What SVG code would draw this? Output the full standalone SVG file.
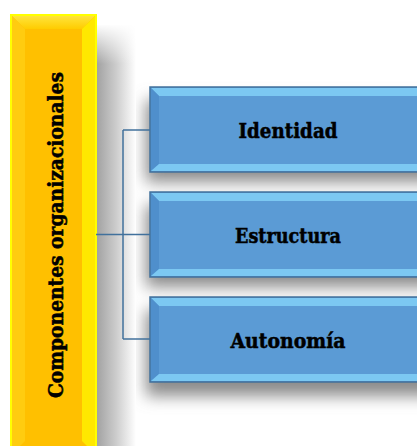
<svg xmlns="http://www.w3.org/2000/svg" width="417" height="446" viewBox="0 0 417 446">
<defs>
<linearGradient id="shR" x1="0" y1="0" x2="1" y2="0">
<stop offset="0" stop-color="#a0a0a0"/><stop offset="0.5" stop-color="#cccccc"/><stop offset="1" stop-color="#ffffff"/>
</linearGradient>
<linearGradient id="fadeTop" x1="0" y1="0" x2="0" y2="1">
<stop offset="0" stop-color="#ffffff" stop-opacity="1"/><stop offset="1" stop-color="#ffffff" stop-opacity="0"/>
</linearGradient>
<linearGradient id="yTop" x1="0" y1="0" x2="0" y2="1">
<stop offset="0" stop-color="#ffe640"/><stop offset="1" stop-color="#ffcc00"/>
</linearGradient>
<filter id="blur" x="-20%" y="-30%" width="140%" height="160%"><feGaussianBlur stdDeviation="8"/></filter>
<style>
.lbl{font-family:"DejaVu Serif",serif;font-weight:bold;font-size:20px;fill:#000;stroke:#000;stroke-width:0.5;text-anchor:middle}
.blue{fill:#5b9bd5}
.bev{fill:#7cc8f2}
.bevd{fill:#4f8fcc}
.edge{fill:none;stroke:#41719c;stroke-width:1.5}
.con{fill:none;stroke:#41719c;stroke-width:1.5}
</style>
</defs>
<rect width="417" height="446" fill="#fff"/>
<!-- shadows -->
<g filter="url(#blur)" fill="#8a8a8a">
<rect x="146" y="100" width="290" height="82"/>
<rect x="146" y="205" width="290" height="82"/>
<rect x="146" y="310" width="290" height="86"/>
</g>
<rect x="96" y="25" width="40" height="421" fill="url(#shR)"/>
<rect x="96" y="24" width="42" height="40" fill="url(#fadeTop)"/>
<!-- yellow node -->
<g id="componentes">
<rect x="11" y="15" width="85" height="440" fill="#ffc000"/>
<polygon points="11,15 96,15 82,29 25,29" fill="url(#yTop)"/>
<polygon points="11,15 25,29 25,441 11,455" fill="#ffcc10"/>
<polygon points="96,15 82,29 82,441 96,455" fill="#ffe800"/>
<rect x="11" y="15" width="85" height="440" fill="none" stroke="#ffff00" stroke-width="2"/>
<text class="lbl" transform="translate(63,235) rotate(-90)" font-size="21" textLength="326" lengthAdjust="spacingAndGlyphs">Componentes  organizacionales</text>
</g>
<!-- connectors -->
<g id="connectors">
<path class="con" d="M96,234.5 H150 M123,130 V339 M123,130 H150 M123,339 H150"/>
</g>
<g id="identidad">
<rect class="blue" x="150" y="87" width="275" height="85"/>
<polygon class="bev" points="151,88 425,88 425,96 159,96"/>
<polygon class="bevd" points="151,88 159,96 159,164 151,171"/>
<polygon class="bev" points="151,171 159,164 425,164 425,171"/>
<rect class="edge" x="150" y="87" width="275" height="85"/>
<text class="lbl" x="288" y="138" textLength="99" lengthAdjust="spacingAndGlyphs">Identidad</text>
</g>
<g id="estructura">
<rect class="blue" x="150" y="192" width="275" height="85"/>
<polygon class="bev" points="151,193 425,193 425,201 159,201"/>
<polygon class="bevd" points="151,193 159,201 159,269 151,276"/>
<polygon class="bev" points="151,276 159,269 425,269 425,276"/>
<rect class="edge" x="150" y="192" width="275" height="85"/>
<text class="lbl" x="288" y="243" textLength="106" lengthAdjust="spacingAndGlyphs">Estructura</text>
</g>
<g id="autonomia">
<rect class="blue" x="150" y="297" width="275" height="85"/>
<polygon class="bev" points="151,298 425,298 425,306 159,306"/>
<polygon class="bevd" points="151,298 159,306 159,374 151,381"/>
<polygon class="bev" points="151,381 159,374 425,374 425,381"/>
<rect class="edge" x="150" y="297" width="275" height="85"/>
<text class="lbl" x="288" y="348" textLength="115" lengthAdjust="spacingAndGlyphs">Autonomía</text>
</g>
</svg>
